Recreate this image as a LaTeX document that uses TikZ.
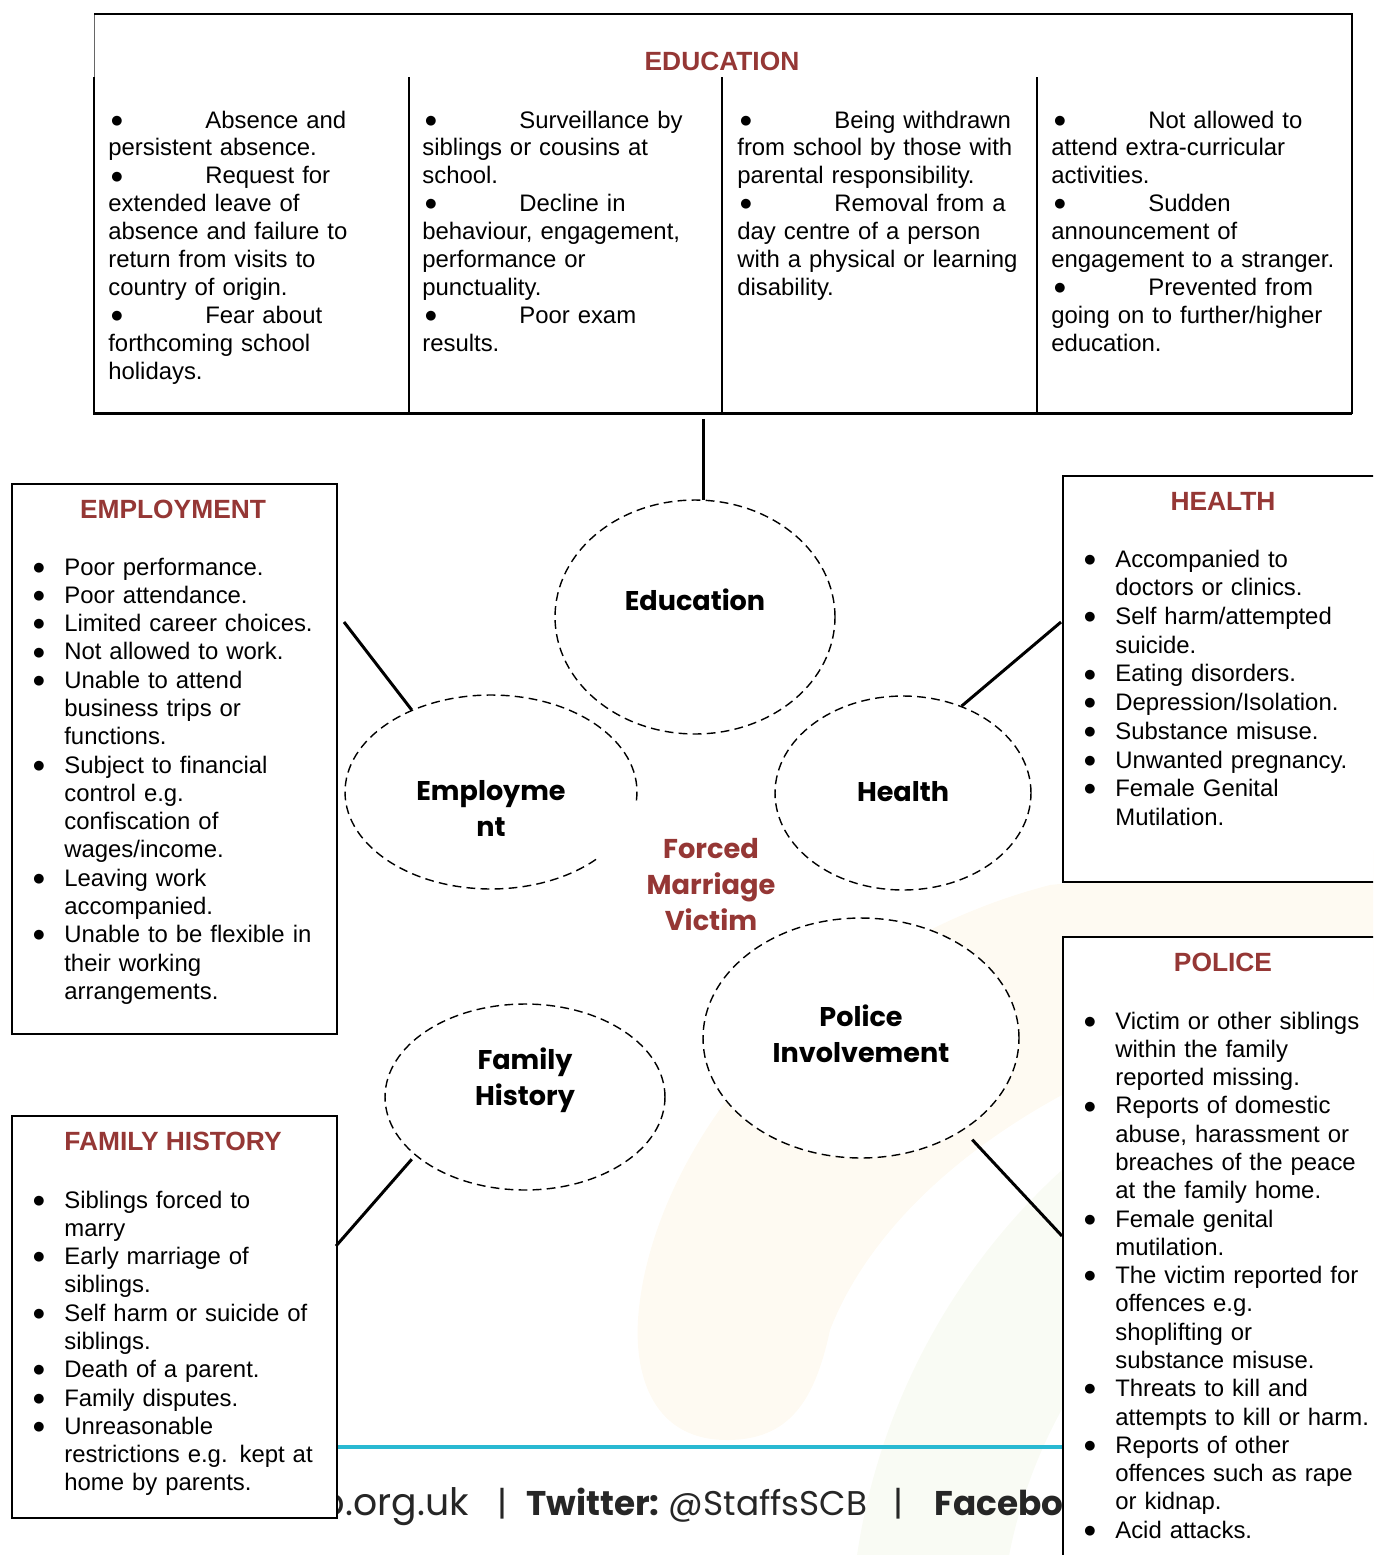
\documentclass[tikz,border=0pt]{standalone}
\usepackage{fontspec}
\setmainfont{Liberation Sans}
\newfontfamily\gothic{Poppins}
\newfontfamily\dotfont{DejaVu Sans}
\usetikzlibrary{shapes.geometric}

\definecolor{fmred}{RGB}{149,55,53}
\definecolor{footcyan}{RGB}{41,185,210}
\definecolor{creamarc}{RGB}{254,250,242}
\definecolor{greenarc}{RGB}{249,251,244}

\newcommand\bigdot{\raisebox{2.2pt}{\dotfont\fontsize{7.3}{8}\selectfont ●}}
\newcommand\bul{\makebox[0.64cm][l]{\hspace*{0.02cm}\bigdot}}
\newcommand\ind{\hspace*{0.64cm}}
\newcommand\ebul{\hspace*{0.06cm}\makebox[1.88cm][l]{\bigdot}}

\begin{document}
\begin{tikzpicture}[x=0.02cm, y=-0.02cm,
  box/.style={draw, line width=1.1pt, fill=white, inner sep=0pt, anchor=north west},
  head/.style={anchor=base, inner sep=0pt, font=\fontsize{15}{18}\selectfont\bfseries, text=fmred},
  list/.style={anchor=base west, align=left, text width=7cm, inner sep=0pt, font=\fontsize{13.6}{16.1}\selectfont},
  edulist/.style={list, text width=6cm, font=\fontsize{13.6}{15.9}\selectfont},
  dashline/.style={dash pattern=on 5pt off 3pt, line width=0.8pt},
  ring/.style={ellipse, draw, fill=white, dashline, inner sep=0pt},
  ringtext/.style={align=center, inner sep=0pt, font=\gothic\bfseries\fontsize{15.4}{20.5}\selectfont},
  link/.style={line width=1.7pt},
  foot/.style={inner sep=0pt, font=\gothic\fontsize{19.5}{24}\selectfont, text=black!85}]

\clip (0,0) rectangle (1373,1555);

% watermark behind everything
\fill[creamarc] (727,1440) .. controls (650,1440) and (630,1370) .. (640,1300)
  .. controls (660,1150) and (800,950) .. (1050,885) -- (1373,850) -- (1373,1000)
  .. controls (1150,1020) and (900,1150) .. (830,1330)
  .. controls (815,1400) and (790,1440) .. (727,1440) -- cycle;
\draw[greenarc, line width=3cm] (1500,1650) ++(185:11.5cm) arc[start angle=185, end angle=110, radius=11.5cm];

% footer
\draw[footcyan, line width=2.8pt] (336,1447) -- (1062,1447);
\begin{scope}
  \clip (336,1420) rectangle (1062,1555);
  \node[foot, anchor=base east, font=\gothic\fontsize{21.5}{24}\selectfont] (web) at (469,1515) {b.org.uk};
  \node[foot, anchor=base] (bar1) at (502,1515) {|};
  \node[foot, anchor=base west] (tw) at (526,1515) {\bfseries Twitter:\mdseries\ @StaffsSCB};
  \node[foot, anchor=base] (bar2) at (898,1515) {|};
  \node[foot, anchor=base west] (fb) at (934,1515) {\bfseries Facebo};
\end{scope}

% education table
\node[box, line width=0.6pt, draw=black!60, minimum width=25.14cm, minimum height=7.98cm] (edubox) at (94,14) {};
\draw[line width=1.1pt] (edubox.north west) -- (edubox.north east) -- (edubox.south east);
\draw[line width=1.7pt] (94,77) -- (edubox.south west) -- (edubox.south east);
\foreach \x in {409,722,1037}
  \draw[line width=1.5pt] (\x,77) -- (\x,413);
\node[head] (eduhead) at (722,70) {EDUCATION};

\node[edulist] (educ1) at (108,128) {\ebul Absence and\\ persistent absence.\\ \ebul Request for\\ extended leave of\\ absence and failure to\\ return from visits to\\ country of origin.\\ \ebul Fear about\\ forthcoming school\\ holidays.};
\node[edulist] (educ2) at (422,128) {\ebul Surveillance by\\ siblings or cousins at\\ school.\\ \ebul Decline in\\ behaviour, engagement,\\ performance or\\ punctuality.\\ \ebul Poor exam\\ results.};
\node[edulist] (educ3) at (737,128) {\ebul Being withdrawn\\ from school by those with\\ parental responsibility.\\ \ebul Removal from a\\ day centre of a person\\ with a physical or learning\\ disability.};
\node[edulist] (educ4) at (1051,128) {\ebul Not allowed to\\ attend extra-curricular\\ activities.\\ \ebul Sudden\\ announcement of\\ engagement to a stranger.\\ \ebul Prevented from\\ going on to further/higher\\ education.};

% side boxes
\node[box, minimum width=6.5cm, minimum height=11cm] (empbox) at (11,483) {};
\node[head] (emphead) at (173,518) {EMPLOYMENT};
\node[list] (emplist) at (32,575) {\bul Poor performance.\\ \bul Poor attendance.\\ \bul Limited career choices.\\ \bul Not allowed to work.\\ \bul Unable to attend\\ \ind business trips or\\ \ind functions.\\ \bul Subject to financial\\ \ind control e.g.\\ \ind confiscation of\\ \ind wages/income.\\ \bul Leaving work\\ \ind accompanied.\\ \bul Unable to be flexible in\\ \ind their working\\ \ind arrangements.};

\node[box, minimum width=6.44cm, minimum height=8.12cm] (hlthbox) at (1062,475) {};
\node[head] (hlthhead) at (1223,510) {HEALTH};
\node[list, font=\fontsize{13.6}{16.35}\selectfont] (hlthlist) at (1083,567) {\bul Accompanied to\\ \ind doctors or clinics.\\ \bul Self harm/attempted\\ \ind suicide.\\ \bul Eating disorders.\\ \bul Depression/Isolation.\\ \bul Substance misuse.\\ \bul Unwanted pregnancy.\\ \bul Female Genital\\ \ind Mutilation.};

\node[box, minimum width=6.44cm, minimum height=13.28cm] (polbox) at (1062,936) {};
\node[head] (polhead) at (1223,971) {POLICE};
\node[list] (pollist) at (1083,1029) {\bul Victim or other siblings\\ \ind within the family\\ \ind reported missing.\\ \bul Reports of domestic\\ \ind abuse, harassment or\\ \ind breaches of the peace\\ \ind at the family home.\\ \bul Female genital\\ \ind mutilation.\\ \bul The victim reported for\\ \ind offences e.g.\\ \ind shoplifting or\\ \ind substance misuse.\\ \bul Threats to kill and\\ \ind attempts to kill or harm.\\ \bul Reports of other\\ \ind offences such as rape\\ \ind or kidnap.\\ \bul Acid attacks.};

\node[box, minimum width=6.5cm, minimum height=8.04cm] (fambox) at (11,1115) {};
\node[head] (famhead) at (173,1150) {FAMILY HISTORY};
\node[list] (famlist) at (32,1208) {\bul Siblings forced to\\ \ind marry\\ \bul Early marriage of\\ \ind siblings.\\ \bul Self harm or suicide of\\ \ind siblings.\\ \bul Death of a parent.\\ \bul Family disputes.\\ \bul Unreasonable\\ \ind restrictions e.g. kept at\\ \ind home by parents.};

% the five areas
\node[ring, minimum width=5.6cm, minimum height=4.68cm] (edu) at (695,617) {};
\node[ringtext] at (695,600) {Education};
\node[ring, draw=none, minimum width=5.84cm, minimum height=3.88cm] (emp) at (491,792) {};
\draw[dashline] ([shift={(-5:2.92cm and 1.94cm)}]emp.center) arc[start angle=-5, end angle=318, x radius=2.92cm, y radius=1.94cm];
\node[ringtext] at (491,808) {Employme\\nt};
\node[ring, minimum width=5.12cm, minimum height=3.88cm] (hlth) at (903,793) {};
\node[ringtext] at (903,792) {Health};
\node[ring, minimum width=6.32cm, minimum height=4.8cm] (pol) at (861,1038) {};
\node[ringtext] at (861,1034) {Police\\Involvement};
\node[ring, minimum width=5.6cm, minimum height=3.72cm] (fam) at (525,1097) {};
\node[ringtext] at (525,1080) {Family\\History};

\node[align=center, inner sep=0pt, font=\gothic\bfseries\fontsize{15.5}{20.5}\selectfont, text=fmred] (victim) at (711,885) {Forced\\Marriage\\Victim};

% connectors
\coordinate (empend) at (344,622);
\coordinate (hlthend) at (1061,622);
\coordinate (polend) at (1062,1236);
\coordinate (famend) at (336,1246);
\draw[link] ([yshift=-0.1cm]edubox.south -| edu.86) -- (edu.86);
\draw[link] (empend) -- (emp.134);
\draw[link] (hlthend) -- (hlth.56);
\draw[link, shorten <=0.26cm] (pol.-42) -- (polend);
\draw[link, shorten <=0.1cm] (fam.208) -- (famend);
\end{tikzpicture}
\end{document}
